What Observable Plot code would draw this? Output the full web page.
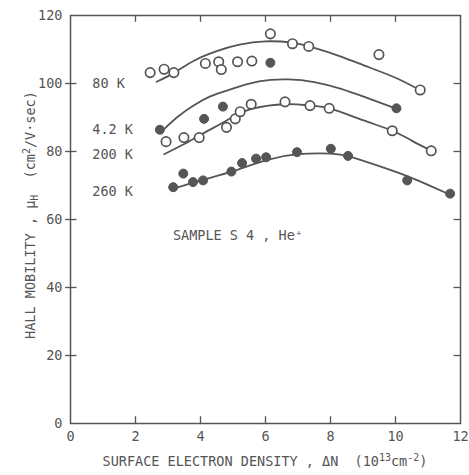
<!DOCTYPE html>
<html>
<head>
<meta charset="utf-8">
<script src="https://cdn.jsdelivr.net/npm/d3@7"></script>
<script src="https://cdn.jsdelivr.net/npm/@observablehq/plot@0.6"></script>
<style>
  html, body { margin: 0; padding: 0; background: #fff; }
  #chart svg { display: block; }
</style>
</head>
<body>
<div id="chart"></div>
<script>
// ---- data ----
const xTicks = [0, 2, 4, 6, 8, 10, 12];
const yTicks = [0, 20, 40, 60, 80, 100, 120];

// 80 K (open circles)
const k80X = [2.45, 2.88, 3.18, 4.15, 4.56, 4.64, 5.14, 5.58, 6.15, 6.83, 7.33, 9.49, 10.76];
const k80Y = [103.2, 104.2, 103.2, 105.9, 106.4, 104.1, 106.4, 106.6, 114.6, 111.7, 110.9, 108.5, 98.1];
// 4.2 K (filled circles)
const k42X = [2.75, 4.11, 4.69, 6.15, 10.03];
const k42Y = [86.4, 89.6, 93.2, 106.1, 92.7];
// 200 K (open circles)
const k200X = [2.94, 3.49, 3.96, 4.80, 5.07, 5.22, 5.56, 6.60, 7.37, 7.96, 9.90, 11.10];
const k200Y = [82.9, 84.1, 84.1, 87.1, 89.6, 91.7, 93.9, 94.6, 93.5, 92.7, 86.1, 80.2];
// 260 K (filled circles)
const k260X = [3.16, 3.47, 3.77, 4.08, 4.95, 5.28, 5.71, 6.02, 6.97, 8.01, 8.54, 10.36, 11.68];
const k260Y = [69.5, 73.5, 71.0, 71.5, 74.1, 76.6, 77.9, 78.3, 79.8, 80.8, 78.7, 71.5, 67.6];

// hand-drawn fit curves
const c80X = [2.65, 3.2, 3.8, 4.5, 5.2, 6.0, 6.8, 7.5, 8.3, 9.2, 10.0, 10.75];
const c80Y = [100.5, 103.2, 106.7, 109.5, 111.4, 112.4, 112.0, 110.5, 108.0, 104.7, 101.7, 98.1];
const c42X = [2.85, 3.3, 3.8, 4.3, 4.9, 5.8, 6.7, 7.5, 8.3, 9.0, 10.0];
const c42Y = [86.3, 90.2, 93.6, 96.2, 98.2, 100.6, 101.2, 100.4, 98.5, 96.2, 92.7];
const c200X = [2.88, 3.5, 4.0, 4.5, 5.0, 5.6, 6.6, 7.4, 8.0, 9.0, 9.9, 10.5, 11.1];
const c200Y = [79.2, 82.2, 84.9, 87.5, 90.2, 92.6, 93.9, 93.5, 92.6, 89.2, 86.1, 83.2, 80.2];
const c260X = [3.15, 4.1, 5.0, 6.0, 7.0, 8.0, 8.6, 9.5, 10.3, 11.0, 11.7];
const c260Y = [69.0, 71.7, 74.2, 77.4, 79.2, 79.4, 78.5, 75.7, 73.0, 70.2, 67.2];

// labels
const seriesLabels = ["80 K", "4.2 K", "200 K", "260 K"];
const seriesLabelY = [99.9, 86.4, 79.1, 68.3];
const seriesLabelX = 0.67;
const sampleText = "SAMPLE S 4 , He⁺";
const sampleAt = [3.15, 55.1];

// ---- build tables ----
const pts = (xs, ys) => xs.map((x, i) => ({x, y: ys[i]}));
const open = [...pts(k80X, k80Y), ...pts(k200X, k200Y)];
const filled = [...pts(k42X, k42Y), ...pts(k260X, k260Y)];
const curves = [pts(c80X, c80Y), pts(c42X, c42Y), pts(c200X, c200Y), pts(c260X, c260Y)];
const labels = seriesLabels.map((t, i) => ({t, x: seriesLabelX, y: seriesLabelY[i]}));

const ink = "#555";
const font = "'DejaVu Sans Mono', monospace";
const inner = [2, 4, 6, 8, 10];
const innerY = [20, 40, 60, 80, 100];

const chart = Plot.plot({
  width: 469,
  height: 475,
  marginLeft: 70,
  marginRight: 9,
  marginTop: 15,
  marginBottom: 52,
  style: {fontFamily: font, fontSize: "13.5px", color: ink, background: "#fff"},
  x: {domain: [0, 12], ticks: xTicks, label: null},
  y: {domain: [0, 120], ticks: yTicks, label: null},
  marks: [
    Plot.frame({stroke: ink, strokeWidth: 1.5}),
    Plot.axisX({ticks: xTicks, tickSize: 0, tickPadding: 8, label: null, fontSize: 13.5}),
    Plot.axisY({ticks: yTicks, tickSize: 0, tickPadding: 8, label: null, fontSize: 13.5}),
    // inward tick marks on all four sides
    Plot.ruleX(inner, {y1: 0, y2: 2, stroke: ink, strokeWidth: 1.3}),
    Plot.ruleX(inner, {y1: 118, y2: 120, stroke: ink, strokeWidth: 1.3}),
    Plot.ruleY(innerY, {x1: -0.15, x2: 0.2, stroke: ink, strokeWidth: 1.3}),
    Plot.ruleY(innerY, {x1: 11.8, x2: 12, stroke: ink, strokeWidth: 1.3}),
    // fit curves
    ...curves.map(c => Plot.line(c, {x: "x", y: "y", curve: "natural", stroke: ink, strokeWidth: 1.8})),
    // data points
    Plot.dot(open, {x: "x", y: "y", r: 4.7, fill: "#fff", stroke: ink, strokeWidth: 1.7}),
    Plot.dot(filled, {x: "x", y: "y", r: 4.5, fill: ink, stroke: ink, strokeWidth: 1}),
    // annotations
    Plot.text(labels, {x: "x", y: "y", text: "t", textAnchor: "start", fill: ink, fontSize: 13.5}),
    Plot.text([sampleText], {x: sampleAt[0], y: sampleAt[1], text: d => d, textAnchor: "start", fill: ink, fontSize: 13.5})
  ]
});

document.getElementById("chart").appendChild(chart);

// axis titles with sub/superscripts
const svg = d3.select(chart);
const yt = svg.append("text")
  .attr("transform", "translate(35,215) rotate(-90)")
  .attr("text-anchor", "middle")
  .attr("fill", ink)
  .style("font-family", font)
  .style("font-size", "13.5px");
yt.append("tspan").text("HALL MOBILITY , μ");
yt.append("tspan").attr("dy", 3).style("font-size", "10px").text("H");
yt.append("tspan").attr("dy", -3).attr("xml:space", "preserve").text("  (cm");
yt.append("tspan").attr("dy", -5).style("font-size", "10px").text("2");
yt.append("tspan").attr("dy", 5).text("/V·sec)");

const xt = svg.append("text")
  .attr("x", 265)
  .attr("y", 466)
  .attr("text-anchor", "middle")
  .attr("fill", ink)
  .style("font-family", font)
  .style("font-size", "13.5px");
xt.append("tspan").text("SURFACE ELECTRON DENSITY , ΔN  (10");
xt.append("tspan").attr("dy", -5).style("font-size", "10px").text("13");
xt.append("tspan").attr("dy", 5).text("cm");
xt.append("tspan").attr("dy", -5).style("font-size", "10px").text("-2");
xt.append("tspan").attr("dy", 5).text(")");
</script>
</body>
</html>
